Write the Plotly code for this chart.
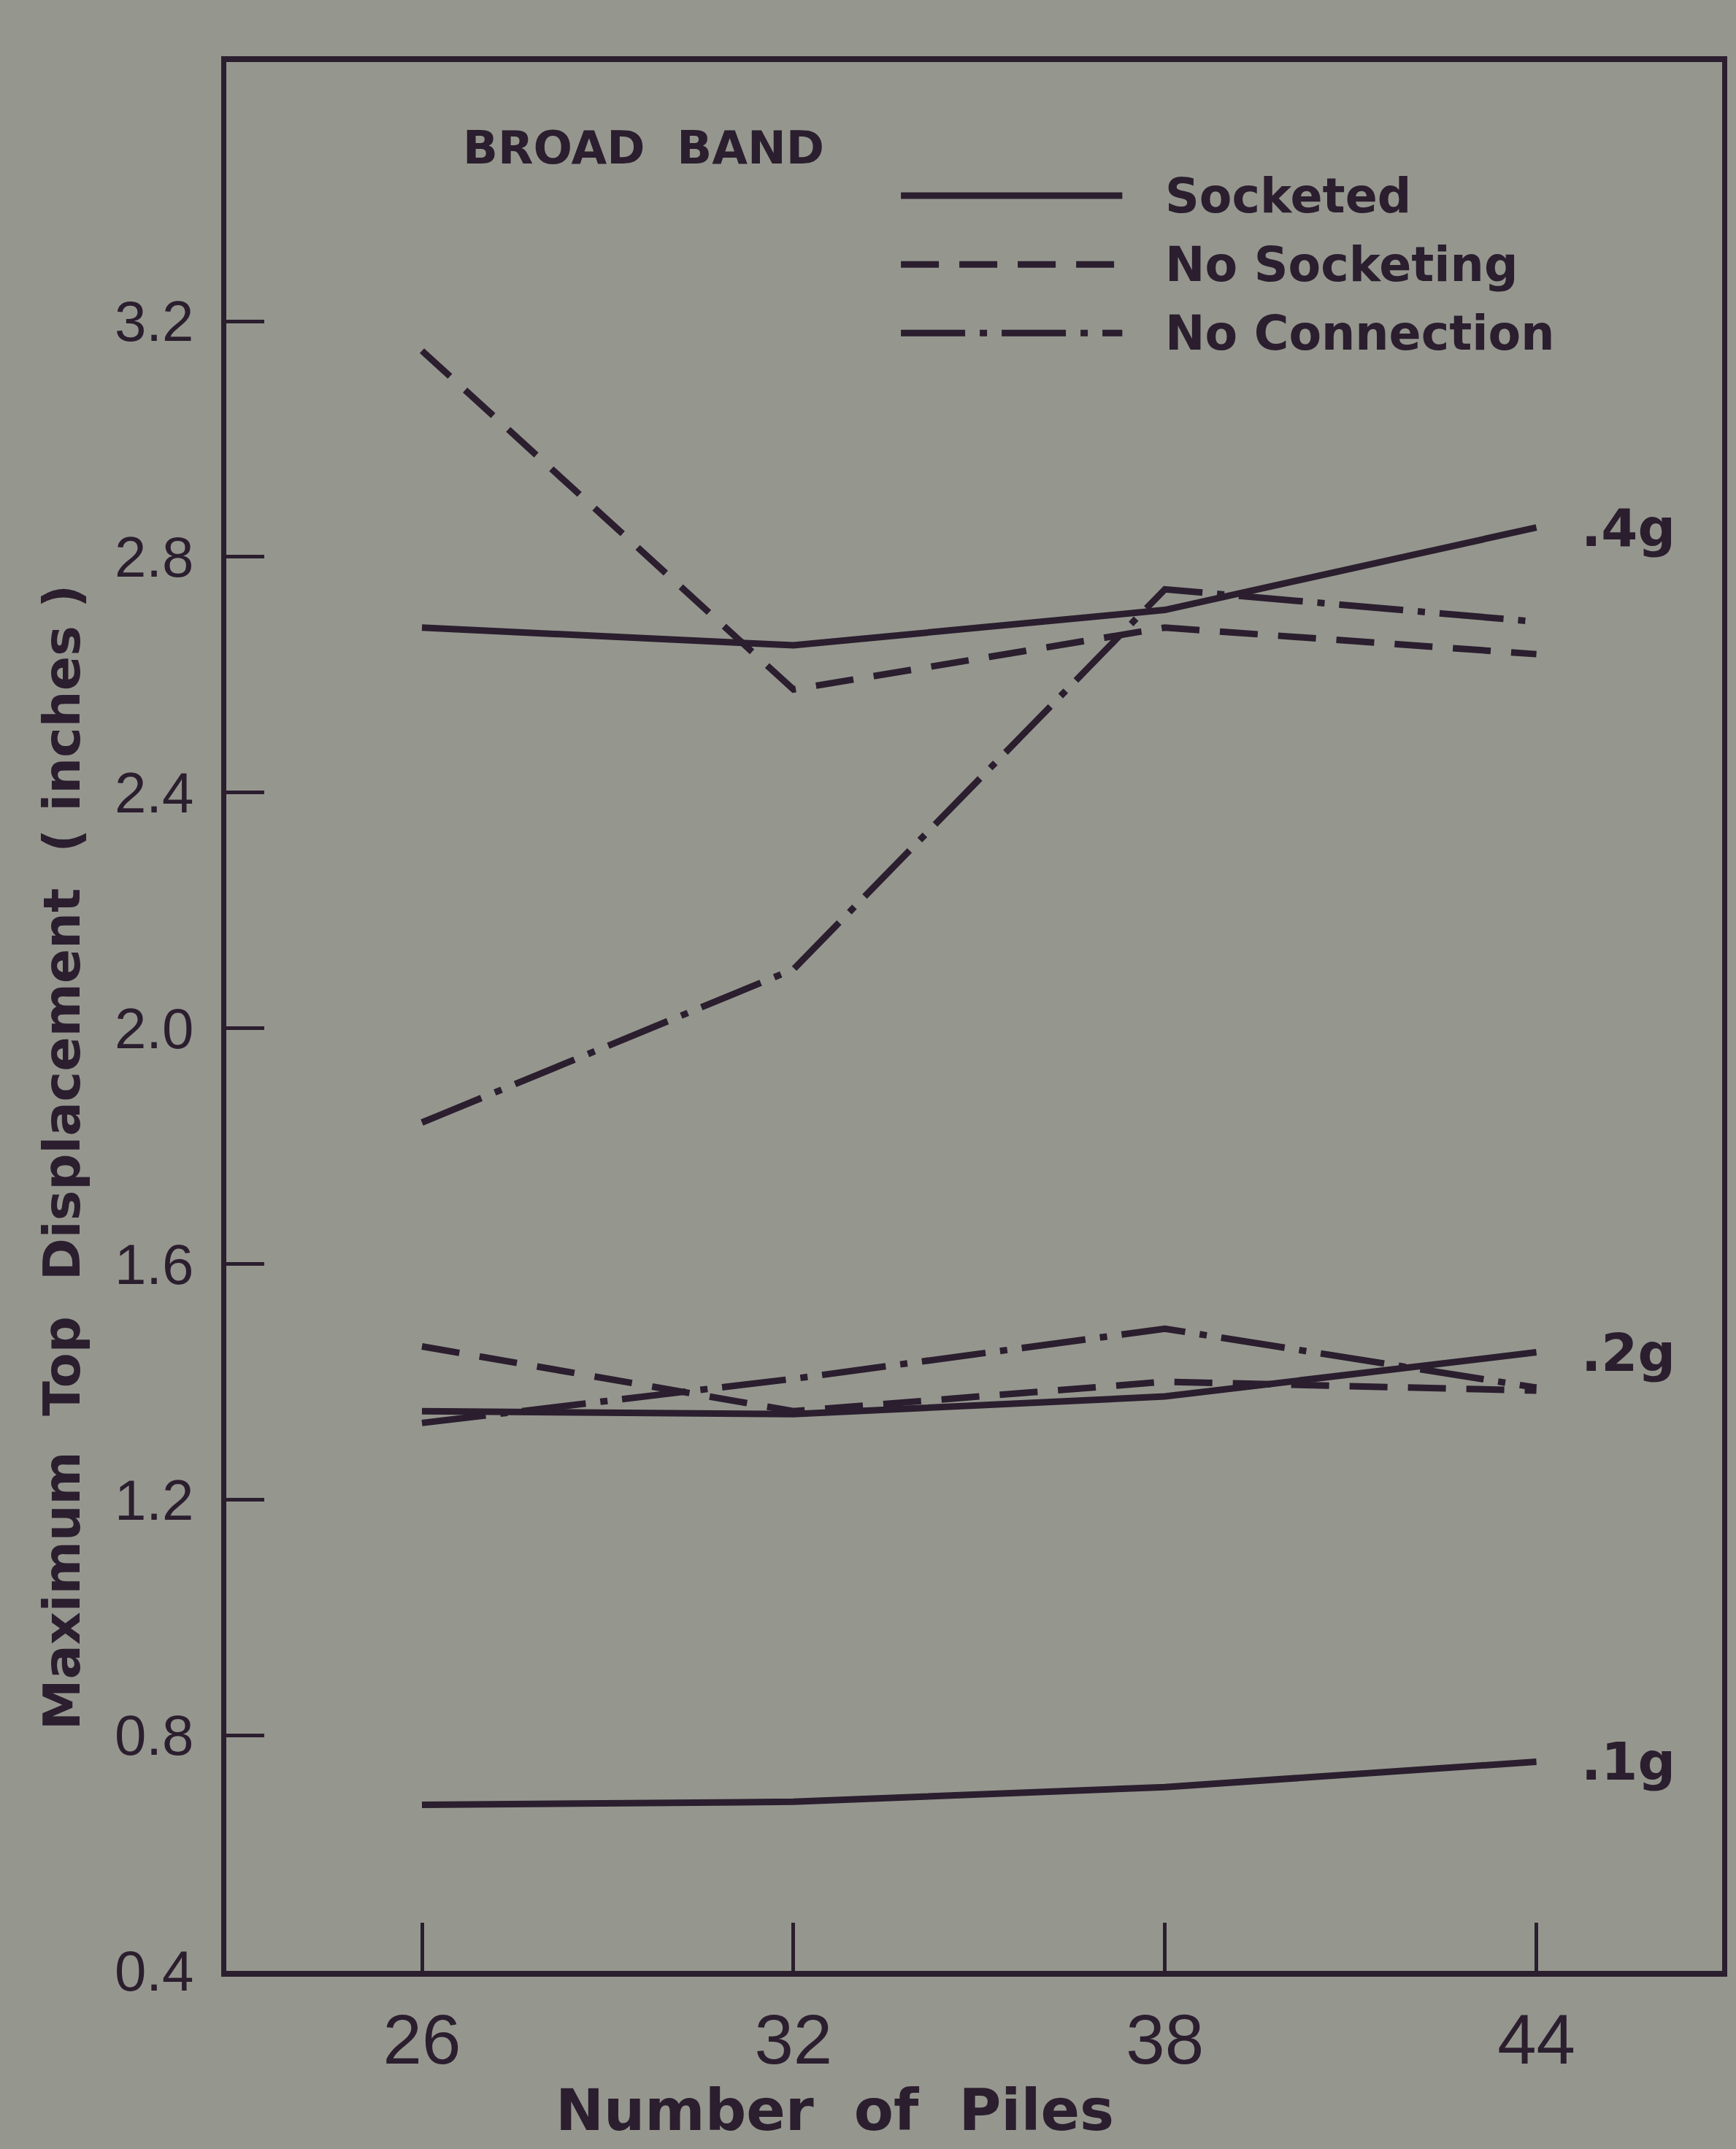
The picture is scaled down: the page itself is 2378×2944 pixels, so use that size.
import plotly.graph_objects as go

# ---------------- data ----------------
piles = [26, 32, 38, 44]

# 0.4g excitation
socketed_04 = [2.68, 2.65, 2.71, 2.85]
no_socketing_04 = [3.15, 2.575, 2.68, 2.635]
no_connection_04 = [1.84, 2.10, 2.745, 2.69]

# 0.2g excitation
socketed_02 = [1.35, 1.345, 1.375, 1.45]
no_socketing_02 = [1.46, 1.35, 1.40, 1.385]
no_connection_02 = [1.33, 1.405, 1.49, 1.39]

# 0.1g excitation
socketed_01 = [0.682, 0.687, 0.712, 0.755]

y_ticks = [0.4, 0.8, 1.2, 1.6, 2.0, 2.4, 2.8, 3.2]
y_tick_text = ["0.4", "0.8", "1.2", "1.6", "2.0", "2.4", "2.8", "3.2"]
level_labels = [".4g", ".2g", ".1g"]
legend_names = ["Socketed", "No Socketing", "No Connection"]

# ---------------- style ----------------
INK = "#2b1e2e"
BG = "#95978f"
LW = 9
DASH = "52px,28px"
DASHDOT = "88px,20px,10px,20px"
styles = {"Socketed": "solid", "No Socketing": DASH, "No Connection": DASHDOT}

fig = go.Figure()

series = [
    (socketed_04, "Socketed"), (no_socketing_04, "No Socketing"), (no_connection_04, "No Connection"),
    (socketed_02, "Socketed"), (no_socketing_02, "No Socketing"), (no_connection_02, "No Connection"),
    (socketed_01, "Socketed"),
]
for vals, name in series:
    fig.add_trace(go.Scatter(
        x=piles, y=vals, mode="lines", name=name, showlegend=False,
        line=dict(color=INK, width=LW, dash=styles[name]),
    ))

# level labels at the right end of each group
for lab, vals in zip(level_labels, [socketed_04, socketed_02, socketed_01]):
    fig.add_annotation(x=44.7, y=vals[-1], xref="x", yref="y", text=lab,
                       showarrow=False, xanchor="left", yanchor="middle",
                       font=dict(family="DejaVu Sans", size=72, color=INK, weight="bold"))

# legend drawn as line keys + labels
leg_y = [0.930, 0.894, 0.858]
for name, ly in zip(legend_names, leg_y):
    fig.add_shape(type="line", xref="paper", yref="paper",
                  x0=0.451, x1=0.599, y0=ly, y1=ly,
                  line=dict(color=INK, width=LW, dash=styles[name]))
    fig.add_annotation(x=0.6265, y=ly, xref="paper", yref="paper", text=name,
                       showarrow=False, xanchor="left", yanchor="middle",
                       font=dict(family="DejaVu Sans", size=65, color=INK, weight="bold"))

fig.add_annotation(x=0.279, y=0.955, xref="paper", yref="paper", text="BROAD  BAND",
                   showarrow=False, xanchor="center", yanchor="middle",
                   font=dict(family="DejaVu Sans", size=63, color=INK, weight="bold"))

# axis titles
fig.add_annotation(x=0.407, y=-0.0915, xref="paper", yref="paper",
                   text="Number  of  Piles", showarrow=False,
                   xanchor="center", yanchor="bottom",
                   font=dict(family="DejaVu Sans", size=79, color=INK, weight="bold"))
fig.add_annotation(x=-0.1097, y=0.426, xref="paper", yref="paper",
                   text="Maximum  Top  Displacement  ( inches )", showarrow=False,
                   textangle=-90, xanchor="center", yanchor="middle",
                   font=dict(family="DejaVu Sans", size=70, color=INK, weight="bold"))

fig.update_xaxes(
    range=[22.84, 47.0], tickvals=piles, ticktext=[str(p) for p in piles],
    ticks="inside", ticklen=66, tickwidth=5, tickcolor=INK,
    showline=True, linewidth=8, linecolor=INK, mirror=True,
    showgrid=False, zeroline=False, ticklabelstandoff=4,
    tickfont=dict(family="Liberation Sans", size=96, color=INK),
)
fig.update_yaxes(
    range=[0.4, 3.64], tickvals=y_ticks, ticktext=y_tick_text,
    ticks="inside", ticklen=52, tickwidth=5, tickcolor=INK,
    showline=True, linewidth=7, linecolor=INK, mirror=True,
    showgrid=False, zeroline=False, ticklabelstandoff=22,
    tickfont=dict(family="Liberation Sans", size=78, color=INK),
)

fig.update_layout(
    width=2378, height=2944,
    margin=dict(l=310, r=17, t=85, b=244, pad=0),
    paper_bgcolor=BG, plot_bgcolor=BG,
    showlegend=False,
)

fig.write_html("out.html")
